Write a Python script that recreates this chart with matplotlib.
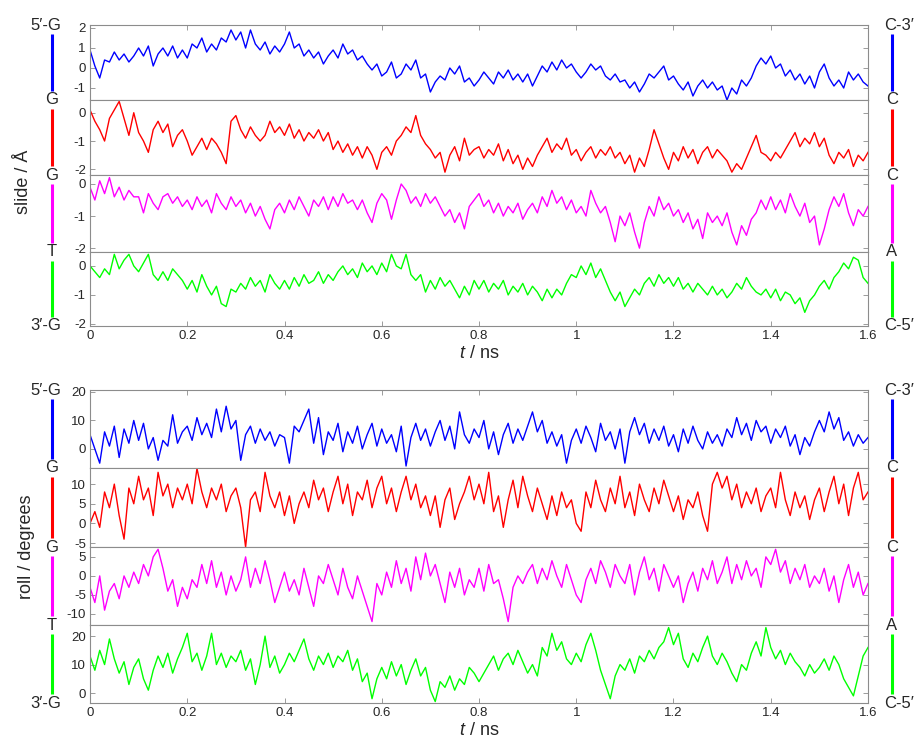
import numpy as np
import matplotlib.pyplot as plt
from matplotlib.lines import Line2D

plt.rcParams['font.family'] = ['Liberation Sans', 'DejaVu Sans']
plt.rcParams['mathtext.fontset'] = 'custom'
plt.rcParams['mathtext.rm'] = 'Liberation Sans'
plt.rcParams['mathtext.it'] = 'Liberation Sans:italic'
plt.rcParams['axes.unicode_minus'] = False

# time step of the traces (ns)
dt = 0.01

# slide (Angstrom), one value per 0.01 ns
slide_gc = [0.9, 0.1, -0.5, 0.4, 0.3, 0.8, 0.4, 0.7, 0.3, 0.6,
            1.0, 0.6, 1.1, 0.1, 0.7, 1.0, 0.6, 1.1, 0.5, 0.9,
            0.5, 1.2, 1.0, 1.5, 0.8, 1.2, 0.9, 1.5, 1.3, 1.9,
            1.4, 1.8, 1.0, 1.9, 1.2, 0.9, 1.3, 0.7, 1.1, 0.8,
            1.2, 1.8, 1.0, 1.2, 0.6, 0.9, 0.5, 0.8, 0.2, 0.6,
            0.9, 0.5, 1.2, 0.7, 0.9, 0.4, 0.6, 0.2, -0.1, 0.2,
            -0.4, -0.2, 0.3, -0.5, -0.3, 0.2, -0.1, 0.4, -0.5, -0.3,
            -1.2, -0.7, -0.4, -0.6, 0.0, -0.3, 0.1, -0.7, -0.5, -0.9,
            -0.6, -0.2, -0.5, -0.8, -0.2, -0.5, -0.1, -0.6, -0.3, -0.7,
            -0.3, -0.9, -0.4, 0.1, -0.2, 0.3, -0.1, 0.4, 0.0, 0.2,
            -0.2, -0.5, -0.2, 0.2, -0.1, 0.1, -0.4, -0.6, -0.3, -0.7,
            -0.6, -1.0, -0.7, -1.2, -0.8, -0.3, -0.5, -0.2, 0.1, -0.6,
            -0.4, -0.8, -1.1, -0.7, -1.4, -0.9, -0.6, -1.0, -0.7, -1.1,
            -0.9, -1.6, -1.0, -1.3, -0.6, -0.9, -0.5, 0.1, 0.5, 0.2,
            0.6, 0.0, 0.2, -0.4, -0.1, -0.6, -0.3, -0.8, -0.4, -1.0,
            -0.2, 0.2, -0.5, -0.9, -0.6, -1.0, -0.2, -0.6, -0.3, -0.7, -0.9]
slide_gg = [0.1, -0.3, -0.6, -1.0, -0.2, 0.1, 0.4, -0.2, -0.8, 0.0,
            -0.7, -1.0, -1.4, -0.6, -0.3, -0.7, -0.4, -1.2, -0.8, -0.6,
            -1.0, -1.5, -1.2, -0.9, -1.3, -0.9, -1.1, -1.4, -1.8, -0.3,
            -0.1, -0.6, -0.9, -0.5, -0.8, -1.0, -0.8, -0.3, -0.7, -0.5,
            -0.8, -0.4, -0.9, -0.6, -1.0, -0.7, -0.9, -0.6, -1.0, -0.7,
            -1.3, -1.0, -1.4, -1.1, -1.5, -1.2, -1.6, -1.2, -1.5, -2.0,
            -1.4, -1.2, -1.5, -1.0, -0.8, -0.5, -0.7, -0.1, -0.8, -1.1,
            -1.3, -1.6, -1.4, -2.1, -1.5, -1.2, -1.7, -0.9, -1.5, -1.3,
            -1.2, -1.6, -1.3, -1.5, -1.1, -1.7, -1.3, -1.8, -1.5, -2.0,
            -1.6, -1.9, -1.5, -1.2, -0.9, -1.4, -1.1, -1.3, -0.9, -1.5,
            -1.3, -1.7, -1.4, -1.2, -1.6, -1.3, -1.5, -1.2, -1.6, -1.4,
            -1.8, -1.5, -2.1, -1.6, -1.9, -1.3, -0.6, -1.1, -1.6, -2.0,
            -1.4, -1.7, -1.2, -1.6, -1.3, -1.8, -1.4, -1.2, -1.6, -1.3,
            -1.5, -1.7, -2.1, -1.8, -2.0, -1.6, -1.2, -0.8, -1.4, -1.5,
            -1.7, -1.4, -1.6, -1.3, -1.0, -0.7, -1.2, -0.9, -1.1, -0.7,
            -1.2, -0.9, -1.5, -1.8, -1.4, -1.6, -1.3, -1.9, -1.5, -1.7, -1.4]
slide_gt = [-0.1, -0.5, 0.1, -0.3, 0.2, -0.4, -0.1, -0.5, -0.2, -0.4,
            -0.4, -0.9, -0.3, -0.6, -0.8, -0.4, -0.3, -0.6, -0.4, -0.7,
            -0.5, -0.8, -0.4, -0.7, -0.5, -0.9, -0.3, -0.6, -0.8, -0.4,
            -0.7, -0.5, -0.9, -0.6, -1.0, -0.7, -1.1, -1.4, -0.8, -0.6,
            -0.9, -0.5, -0.8, -0.4, -0.7, -1.0, -0.5, -0.7, -0.4, -0.8,
            -0.4, -0.7, -0.3, -0.6, -0.5, -0.8, -0.5, -0.9, -1.2, -0.6,
            -0.3, -0.5, -1.1, -0.5, 0.0, -0.2, -0.6, -0.4, -0.7, -0.3,
            -0.6, -0.4, -0.7, -1.0, -0.8, -1.2, -0.9, -1.4, -0.7, -0.5,
            -0.3, -0.7, -0.5, -0.9, -0.6, -1.0, -0.7, -0.9, -0.6, -1.1,
            -0.8, -0.6, -0.9, -0.4, -0.7, -0.2, -0.6, -0.4, -0.8, -0.5,
            -0.9, -0.7, -1.0, -0.2, -0.6, -0.9, -0.7, -1.2, -1.8, -1.0,
            -1.3, -0.9, -1.5, -2.0, -1.2, -0.7, -1.0, -0.4, -0.8, -0.6,
            -1.0, -0.8, -1.2, -0.9, -1.4, -1.1, -1.7, -0.9, -1.2, -1.0,
            -1.3, -0.9, -1.5, -1.9, -1.3, -1.6, -1.1, -0.9, -0.5, -0.8,
            -0.4, -0.8, -0.5, -0.9, -0.3, -0.7, -1.0, -0.6, -1.2, -1.0,
            -1.9, -1.4, -0.8, -0.4, -0.7, -0.3, -0.9, -1.3, -0.8, -1.0, -0.7]
slide_tg = [0.0, -0.2, -0.4, -0.1, -0.3, 0.4, -0.1, 0.2, 0.4, 0.0,
            -0.2, 0.1, 0.4, -0.3, -0.5, -0.2, -0.5, -0.1, -0.3, -0.5,
            -0.8, -0.5, -0.9, -0.3, -0.7, -1.0, -0.7, -1.3, -1.4, -0.8,
            -0.9, -0.6, -0.8, -0.4, -0.7, -0.5, -0.9, -0.3, -0.6, -0.8,
            -0.5, -0.8, -0.4, -0.7, -0.3, -0.6, -0.5, -0.2, -0.6, -0.3,
            -0.5, -0.2, 0.0, -0.3, -0.1, -0.4, 0.1, -0.2, 0.0, -0.3,
            0.1, -0.2, 0.4, 0.0, -0.1, 0.4, -0.3, -0.5, -0.3, -0.9,
            -0.5, -0.8, -0.4, -0.7, -0.5, -0.8, -1.1, -0.7, -1.0, -0.5,
            -0.8, -0.5, -0.9, -0.6, -0.8, -0.5, -1.0, -0.7, -0.9, -0.6,
            -1.0, -0.7, -0.9, -1.2, -0.8, -1.1, -0.8, -1.0, -0.6, -0.3,
            -0.4, 0.0, -0.3, 0.1, -0.4, -0.1, -0.5, -0.9, -1.2, -0.9,
            -1.4, -1.1, -0.8, -1.0, -0.6, -0.4, -0.7, -0.3, -0.6, -0.4,
            -0.7, -0.4, -0.8, -0.6, -0.9, -0.6, -0.8, -1.0, -0.7, -1.0,
            -0.8, -1.1, -0.9, -0.6, -0.8, -0.4, -0.7, -0.9, -1.0, -0.8,
            -1.1, -0.8, -1.2, -0.9, -1.0, -1.3, -1.1, -1.6, -1.2, -1.0,
            -0.7, -0.5, -0.8, -0.4, -0.2, 0.1, -0.1, 0.3, 0.2, -0.4, -0.6]

# roll (degrees), one value per 0.01 ns
roll_gc = [5, 0, -5, 6, 1, 8, -3, 7, 2, 10,
           3, 9, 0, 4, -4, 3, 1, 12, 2, 6,
           8, 3, 11, 5, 9, 4, 14, 6, 15, 7,
           10, -4, 5, 8, 2, 7, 3, 6, 1, 5,
           4, -5, 8, 6, 10, 14, 2, 11, -2, 6,
           3, 9, -1, 6, 2, 8, 0, 5, 9, 1,
           7, 2, 5, -1, 8, -6, 4, 9, 3, 7,
           1, 6, 10, 3, 8, 0, 13, 5, 2, 7,
           4, 10, 0, 6, -2, 5, 9, 2, 7, 3,
           8, 13, 6, 10, 2, 6, 1, 5, -5, 3,
           7, 2, 8, 4, -1, 9, 3, 6, 0, 7,
           -5, 6, 11, 5, 9, 2, 7, 3, 8, 1,
           5, -1, 7, 2, 8, 3, 0, 6, 2, 5,
           1, 7, 4, 11, 5, 9, 3, 10, 6, 8,
           2, 7, 4, 8, 1, 5, -2, 4, 1, 6,
           10, 6, 13, 7, 11, 3, 6, 1, 5, 2, 4]
roll_gg = [0, 3, -1, 8, 4, 10, 2, -4, 9, 5,
           12, 6, 9, 2, 13, 7, 10, 4, 9, 6,
           10, 5, 14, 8, 4, 9, 6, 10, 3, 7,
           9, 4, -6, 6, 8, 3, 13, 7, 4, 8,
           2, 7, 0, 5, 8, 4, 11, 6, 9, 3,
           8, 12, 5, 10, 2, 8, 6, 11, 4, 9,
           12, 5, 9, 3, 8, 12, 6, 10, 4, 7,
           2, 7, -1, 6, 9, 1, 5, 8, 12, 6,
           10, 5, 13, 3, 7, -1, 6, 11, 4, 12,
           7, 3, 9, 5, 1, 7, 2, 8, 4, 6,
           0, -2, 8, 4, 11, 6, 3, 9, 5, 12,
           4, 8, 2, 10, 6, 3, 9, 5, 11, 7,
           3, 7, 1, 6, 4, 8, 2, -2, 10, 13,
           9, 12, 6, 10, 4, 8, 5, 9, 3, 7,
           9, 4, 13, 6, 2, 8, 4, 7, 1, 6,
           9, 3, 8, 12, 5, 10, 2, 9, 13, 6, 8]
roll_gt = [-3, -7, 0, -9, -4, -2, -6, 0, -3, 1,
           -2, 3, 0, 5, 7, 2, -4, -1, -8, -3,
           -6, -1, -3, 3, -2, 4, -3, 1, -5, 0,
           -4, -1, 5, -3, 2, -2, 4, -1, -7, -3,
           1, -4, -1, -5, 2, -3, -8, 0, -2, 3,
           -1, -5, 2, -3, -6, 0, -4, -8, -12, -2,
           -5, 1, -3, 4, -2, 2, -4, 5, -1, 6,
           0, 3, -2, -7, 1, -3, 2, -5, -1, -3,
           2, -4, 3, -2, -1, -6, -12, -3, 0, -2,
           1, 3, -2, 2, -1, 4, 0, -3, 3, -1,
           -5, -7, -1, 2, -2, 4, 1, -3, 3, 0,
           -2, 3, -5, 1, 5, -1, 2, -4, 3, 0,
           -3, 0, -7, -2, 1, -4, 2, -1, 4, -2,
           1, 5, -2, 3, -1, 4, 0, 2, -3, 5,
           3, 7, 1, 4, -2, 2, -1, 3, -3, 0,
           -2, 2, -4, 0, -7, -1, 3, -3, 1, -5, -2]
roll_tg = [13, 8, 15, 10, 19, 12, 7, 11, 3, 9,
           12, 5, 1, 8, 13, 9, 14, 7, 12, 16,
           21, 11, 14, 8, 13, 21, 10, 14, 9, 13,
           11, 15, 8, 12, 3, 10, 20, 9, 13, 7,
           10, 14, 11, 15, 19, 12, 8, 13, 10, 14,
           9, 13, 11, 15, 8, 12, 4, 7, -2, 5,
           9, 5, 11, 6, 10, 3, 8, 12, 6, 9,
           1, -3, 4, 2, 6, 1, 5, 3, 9, 7,
           4, 7, 10, 13, 8, 12, 14, 10, 15, 11,
           7, 10, 6, 16, 13, 21, 15, 18, 12, 10,
           14, 11, 17, 21, 15, 8, 3, -2, 6, 10,
           8, 12, 7, 13, 11, 15, 12, 16, 18, 23,
           17, 21, 12, 9, 14, 11, 16, 20, 13, 10,
           14, 11, 7, 4, 10, 8, 14, 18, 13, 23,
           16, 12, 15, 10, 14, 11, 9, 6, 10, 7,
           9, 12, 8, 13, 10, 5, 2, -1, 6, 13, 16]

colors = ['#0000ff', '#ff0000', '#ff00ff', '#00ff00']
left_labels = ['5\u2032-G', 'G', 'G', 'T', '3\u2032-G']
right_labels = ['C-3\u2032', 'C', 'C', 'A', 'C-5\u2032']
xticks = [0, 0.2, 0.4, 0.6, 0.8, 1.0, 1.2, 1.4, 1.6]
xticklabels = ['0', '0.2', '0.4', '0.6', '0.8', '1', '1.2', '1.4', '1.6']

W, H = 920, 747
fig = plt.figure(figsize=(W / 100, H / 100), dpi=100)

def fx(px):
    return px / W

def fy(py):
    return 1 - py / H

gray = '#8c8c8c'
dark = '#262626'

def draw_group(edges, series, ylims, yticks, ylabel, ylabel_pos):
    for i, y in enumerate(series):
        ax = fig.add_axes([fx(90), fy(edges[i + 1]), fx(868) - fx(90),
                           fy(edges[i]) - fy(edges[i + 1])])
        t = np.arange(len(y)) * dt
        ax.plot(t, y, color=colors[i], lw=1.0)
        ax.set_xlim(0, 1.6)
        ax.set_ylim(ylims[i])
        ax.set_yticks(yticks[i])
        ax.set_xticks(xticks)
        ax.set_xticklabels(xticklabels)
        for s in ax.spines.values():
            s.set_color(gray)
            s.set_linewidth(0.8)
        last = i == len(series) - 1
        ax.tick_params(direction='in', length=3.5, width=0.6, color=gray,
                       labelcolor=dark, labelsize=9.5, right=True,
                       top=(i == 0), bottom=last, labelbottom=last, pad=3)
        if last:
            ax.set_xlabel(r'$t$ / ns', fontsize=13, color=dark, labelpad=2)

    # strand labels and coloured bars on both sides
    for k in range(5):
        py = edges[k]
        if k in (0, 4):
            fig.text(fx(61), fy(py), left_labels[k], ha='right', va='center',
                     fontsize=12, color=dark)
            fig.text(fx(884), fy(py), right_labels[k], ha='left', va='center',
                     fontsize=12, color=dark)
        else:
            fig.text(fx(52), fy(py), left_labels[k], ha='center', va='center',
                     fontsize=12, color=dark)
            fig.text(fx(892), fy(py), right_labels[k], ha='center', va='center',
                     fontsize=12, color=dark)
    for k in range(4):
        y0, y1 = fy(edges[k] + 9), fy(edges[k + 1] - 9)
        for px in (52, 892):
            fig.add_artist(Line2D([fx(px), fx(px)], [y0, y1], color=colors[k],
                                  lw=2.2, solid_capstyle='butt'))

    fig.text(fx(ylabel_pos[0]), fy(ylabel_pos[1]), ylabel, rotation=90,
             ha='center', va='center', fontsize=13, color=dark)


draw_group([25, 100, 175, 252, 326],
           [slide_gc, slide_gg, slide_gt, slide_tg],
           [(-1.6, 2.15), (-2.2, 0.45), (-2.12, 0.28), (-2.07, 0.48)],
           [[-1, 0, 1, 2], [-2, -1, 0], [-2, -1, 0], [-2, -1, 0]],
           'slide / \u00c5', (24, 182))

draw_group([390, 468, 547, 625, 703],
           [roll_gc, roll_gg, roll_gt, roll_tg],
           [(-6.7, 20.7), (-6.0, 14.1), (-12.9, 7.6), (-3.5, 23.9)],
           [[0, 10, 20], [-5, 0, 5, 10], [-10, -5, 0, 5], [0, 10, 20]],
           'roll / degrees', (27, 547))

fig.savefig('out.png', dpi=100)
